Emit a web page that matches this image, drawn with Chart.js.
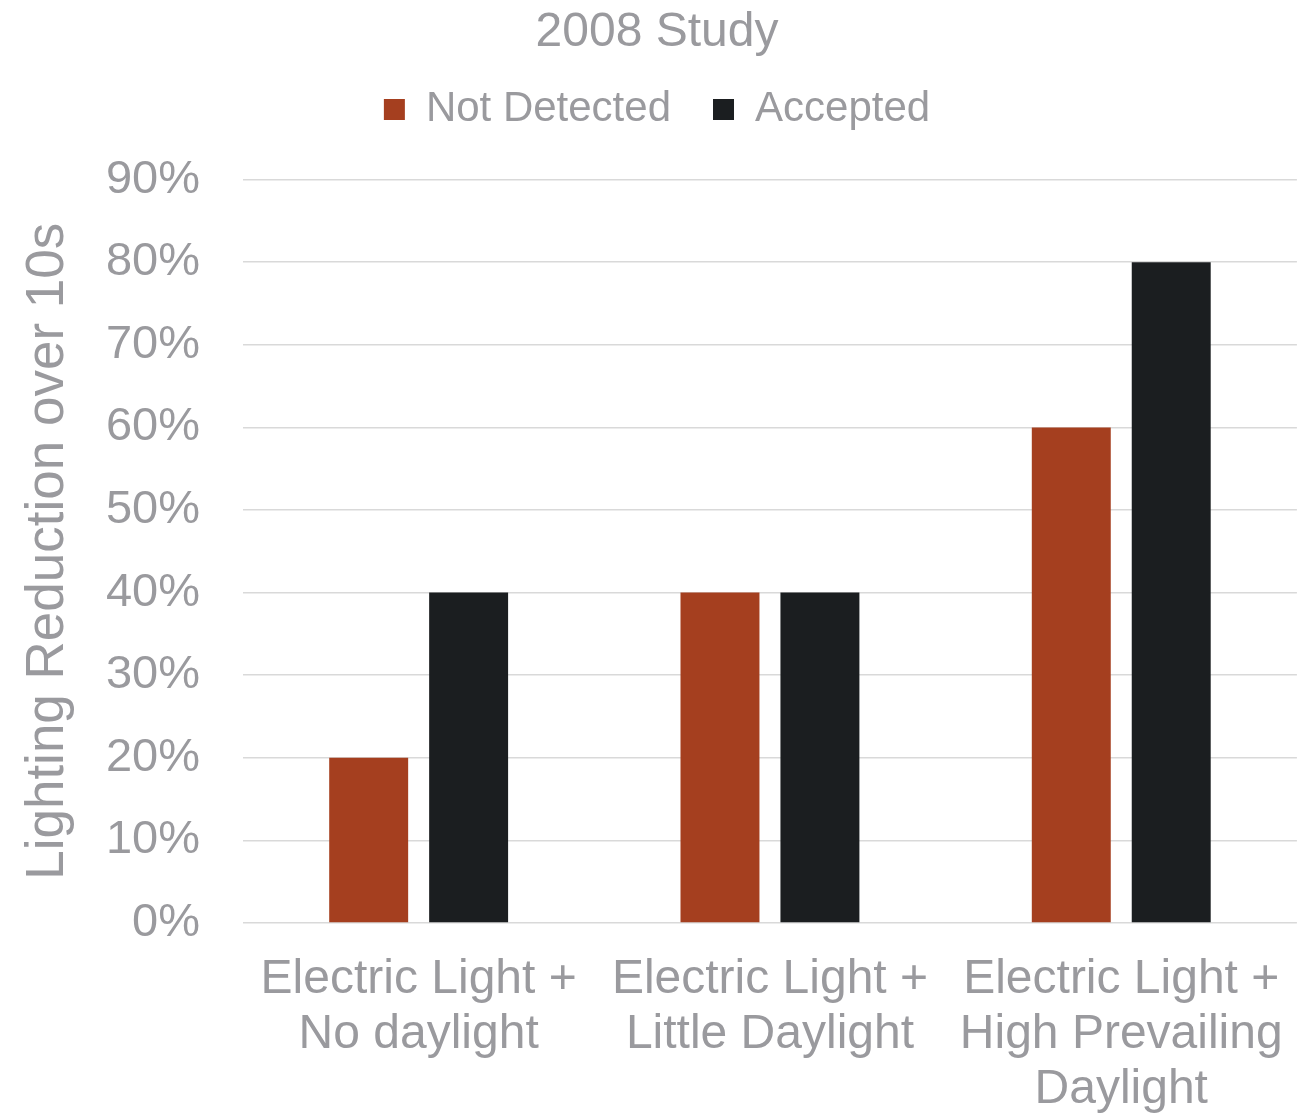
<!DOCTYPE html>
<html>
<head>
<meta charset="utf-8">
<script src="https://cdn.jsdelivr.net/npm/chart.js@4"></script>
<style>
  html, body { margin: 0; padding: 0; background: #fff; overflow: hidden; }
  #wrap { width: 1314px; height: 1115px; }
</style>
</head>
<body>
<div id="wrap"><canvas id="myChart" width="1314" height="1115"></canvas></div>
<script>
const categories = [
  ["Electric Light +", "No daylight"],
  ["Electric Light +", "Little Daylight"],
  ["Electric Light +", "High Prevailing", "Daylight"],
];
const notDetected = [20, 40, 60];
const accepted = [40, 40, 80];
const seriesNames = ["Not Detected", "Accepted"];

const textColor = "#9a9a9e";
const fontFamily = "'Liberation Sans', Arial, sans-serif";

const ctx = document.getElementById("myChart");
const config = {
  type: "bar",
  data: {
    labels: categories,
    datasets: [
      {
        label: seriesNames[0],
        data: notDetected,
        backgroundColor: "#a53f1f",
        categoryPercentage: 0.569,
        barPercentage: 0.79,
      },
      {
        label: seriesNames[1],
        data: accepted,
        backgroundColor: "#1b1e20",
        categoryPercentage: 0.569,
        barPercentage: 0.79,
      },
    ],
  },
  options: {
    responsive: false,
    animation: false,
    devicePixelRatio: 1,
    layout: { padding: 0 },
    plugins: {
      tooltip: { enabled: false },
      title: {
        display: true,
        text: "2008 Study",
        color: textColor,
        font: { family: fontFamily, size: 48, weight: "normal", lineHeight: 1.2 },
        padding: { top: 4, bottom: -15 },
      },
      legend: {
        position: "top",
        labels: {
          color: textColor,
          font: { family: fontFamily, size: 42 },
          boxWidth: 21,
          boxHeight: 21,
          padding: 42,
        },
      },
      // empty spacer under the legend
      subtitle: {
        display: true,
        text: " ",
        weight: 500,
        font: { size: 10, lineHeight: 1 },
        padding: { top: 29, bottom: 0 },
      },
    },
    scales: {
      x: {
        grid: { display: false, drawTicks: false },
        border: { display: false },
        ticks: {
          color: textColor,
          font: { family: fontFamily, size: 48, lineHeight: 1.15 },
          padding: 29,
          maxRotation: 0,
          autoSkip: false,
        },
        afterFit: (scale) => { scale.height = 192; },
      },
      y: {
        min: 0,
        max: 90,
        grid: { color: "#d9d9d9", lineWidth: 1.5, drawTicks: false },
        border: { display: false },
        ticks: {
          stepSize: 10,
          color: textColor,
          font: { family: fontFamily, size: 47 },
          padding: 43,
          callback: (v) => v + "%",
        },
        title: {
          display: true,
          text: "Lighting Reduction over 10s",
          color: textColor,
          font: { family: fontFamily, size: 53, lineHeight: 1.2 },
          padding: { top: 17, bottom: 0 },
        },
        afterFit: (scale) => { scale.width = 243; },
      },
      // blank strip on the right so the plot ends at 1298
      yRight: {
        position: "right",
        display: true,
        grid: { display: false, drawTicks: false },
        border: { display: false },
        ticks: { display: false },
        afterFit: (scale) => { scale.width = 14; },
      },
    },
  },
};
const myChart = new Chart(ctx, config);
</script>
</body>
</html>
